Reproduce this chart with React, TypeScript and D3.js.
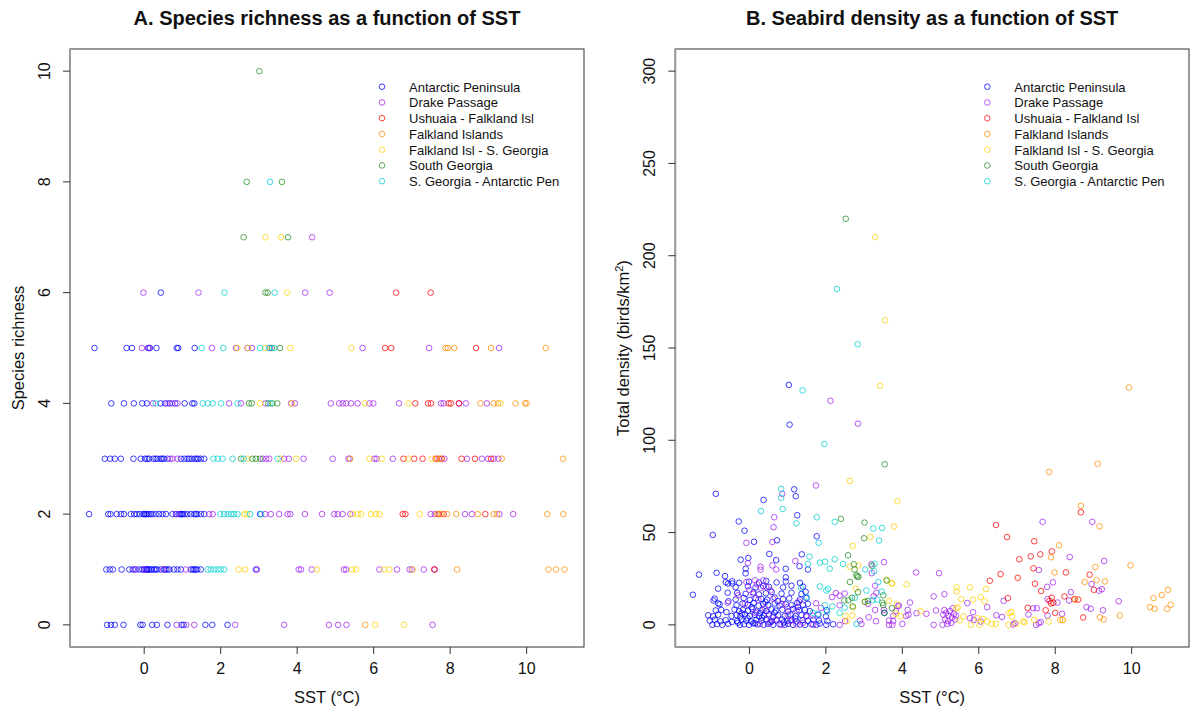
import React from "react";
import * as d3 from "d3";

const regionNames = [
  "Antarctic Peninsula",
  "Drake Passage",
  "Ushuaia - Falkland Isl",
  "Falkland Islands",
  "Falkland Isl - S. Georgia",
  "South Georgia",
  "S. Georgia - Antarctic Pen",
];
const regionColors = ["#0000FF", "#A020F0", "#FF0000", "#FF8C00", "#FFD000", "#228B22", "#00CED1"];

const xTicks = [0, 2, 4, 6, 8, 10];
const yTicksA = [0, 2, 4, 6, 8, 10];
const yTicksB = [0, 50, 100, 150, 200, 250, 300];

// Panel A: [richness, SST values]
const richAP: [number, number[]][] = [
  [6, [0.435]],
  [5, [-1.3, -0.46, -0.32, 0.1, 0.15, 0.32, 0.85, 0.89, 1.32]],
  [4, [-0.86, -0.53, -0.27, -0.05, 0.07, 0.43, 0.55, 0.67, 0.81, 1.06, 1.26, 1.31]],
  [3, [-1.03, -0.89, -0.77, -0.61, -0.28, -0.09, 0.02, 0.08, 0.13, 0.24, 0.3, 0.35, 0.43, 0.47, 0.52, 0.61, 0.96, 1.05, 1.13, 1.18, 1.24, 1.32, 1.37, 1.41, 1.48, 1.57]],
  [2, [-1.44, -0.94, -0.88, -0.72, -0.61, -0.53, -0.35, -0.26, -0.19, -0.11, -0.02, 0.0, 0.04, 0.07, 0.12, 0.17, 0.22, 0.3, 0.39, 0.48, 0.57, 0.74, 0.83, 0.91, 0.95, 0.98, 1.01, 1.06, 1.13, 1.22, 1.31, 1.35, 1.39, 1.48, 1.57, 3.03]],
  [1, [-0.99, -0.9, -0.82, -0.59, -0.39, -0.3, -0.22, -0.13, -0.05, 0.0, 0.04, 0.07, 0.09, 0.12, 0.17, 0.2, 0.26, 0.3, 0.34, 0.43, 0.52, 0.56, 0.61, 0.66, 0.78, 0.87, 0.96, 1.22, 1.27, 1.31, 1.35, 1.39, 1.48, 2.92]],
  [0, [-0.97, -0.87, -0.77, -0.54, -0.1, -0.04, 0.21, 0.33, 0.61, 0.98, 1.03, 1.6, 1.78, 2.18]],
];
const richDP: [number, number[]][] = [
  [7, [4.39]],
  [6, [-0.02, 1.42, 4.21, 4.85]],
  [5, [-0.06, 0.12, 1.77, 2.4, 2.7, 2.82, 3.29, 5.71, 7.45, 9.28]],
  [4, [0.23, 0.61, 0.73, 0.87, 2.22, 2.53, 3.17, 3.84, 3.94, 4.88, 5.1, 5.19, 5.28, 5.41, 5.58, 5.89, 5.99, 6.66, 7.76, 7.83, 8.23, 8.41, 8.96]],
  [3, [0.68, 0.74, 0.87, 3.1, 3.19, 3.27, 3.66, 3.78, 4.17, 4.93, 5.34, 5.38, 6.02, 6.08, 6.5, 7.7, 7.85, 8.44, 8.83, 8.99, 9.14, 9.26]],
  [2, [0.85, 1.7, 1.79, 3.16, 3.31, 3.53, 3.75, 3.82, 4.2, 4.65, 4.97, 5.06, 5.19, 5.39, 7.49, 7.6, 8.39, 8.57, 9.29, 9.65]],
  [1, [-0.25, 0.0, 0.5, 1.09, 2.95, 4.04, 4.1, 4.38, 5.22, 5.28, 6.15, 6.61, 6.94, 7.0, 7.31, 7.6]],
  [0, [0.85, 1.1, 1.31, 2.38, 3.66, 4.83, 5.07, 5.29, 7.54]],
];
const richUF: [number, number[]][] = [
  [6, [6.59, 7.49]],
  [5, [6.3, 6.46, 8.68]],
  [4, [7.09, 7.42, 7.5, 7.96, 8.02, 8.23]],
  [3, [6.78, 7.06, 7.28, 7.62, 7.78, 8.3, 8.65, 9.07]],
  [2, [6.76, 6.83, 7.7, 7.83, 8.92]],
  [1, [7.58]],
];
const richFI: [number, number[]][] = [
  [5, [7.88, 7.94, 8.11, 9.07, 10.5]],
  [4, [8.79, 9.14, 9.25, 9.71, 9.96, 10.0]],
  [3, [7.66, 7.74, 9.35, 10.95]],
  [2, [7.66, 7.75, 7.92, 8.16, 8.72, 9.14, 9.23, 10.54, 10.96]],
  [1, [8.18, 10.57, 10.77, 10.99]],
  [0, [5.78]],
];
const richFS: [number, number[]][] = [
  [7, [3.17, 3.58]],
  [6, [3.74]],
  [5, [2.44, 2.72, 3.17, 3.82, 5.42]],
  [4, [3.03, 3.86, 5.77, 6.91, 9.32]],
  [3, [2.7, 3.56, 3.97, 5.39, 5.89, 6.21, 6.91, 7.52]],
  [2, [2.62, 2.69, 5.45, 5.58, 5.67, 5.93, 6.06, 6.15, 7.2]],
  [1, [2.47, 2.64, 4.52, 5.44, 5.54, 6.27, 6.41, 7.02]],
  [0, [6.04, 6.79]],
];
const richSG: [number, number[]][] = [
  [10, [3.01]],
  [8, [2.68, 3.6]],
  [7, [2.6, 3.76]],
  [6, [3.17, 3.23]],
  [5, [3.34, 3.55]],
  [4, [2.74, 2.81, 3.24, 3.35, 3.48]],
  [3, [2.53, 2.83, 2.92, 3.03]],
];
const richGA: [number, number[]][] = [
  [8, [3.29]],
  [6, [2.1, 3.41]],
  [5, [1.5, 2.07, 3.03, 3.26, 3.4]],
  [4, [0.3, 1.53, 1.66, 1.79, 2.01, 2.44, 3.3]],
  [3, [1.81, 1.92, 2.05, 2.31, 2.6, 3.49]],
  [2, [1.99, 2.09, 2.18, 2.27, 2.35, 2.44, 2.77, 3.06]],
  [1, [1.66, 1.74, 1.83, 1.92, 2.0, 2.09]],
];

// Panel B: [SST, density]
const densAP: [number, number][] = [
  [1.03, 130], [1.05, 108.5], [-0.88, 71], [1.17, 73.4], [1.21, 69.7], [0.37, 67.7], [1.25, 59.4], [-0.28, 56],
  [-0.96, 48.7], [-0.13, 51], [0.12, 45], [0.72, 45.8], [1.76, 48], [1.37, 38.2], [0.52, 38.4], [-0.03, 36.2],
  [-0.23, 35.3], [-0.1, 30.4], [-0.1, 27.9], [1.53, 30], [0.95, 30.4], [0.95, 25.7], [1.31, 31.8], [0.7, 35.1],
  [-1.32, 27.2], [-0.86, 28.2], [-0.64, 26.4], [-1.48, 16.3], [-0.82, 19.6], [-0.56, 22.4], [-0.45, 22.4],
  [-0.57, 17.4], [-0.55, 12.8], [-0.82, 11.6], [-0.94, 13.2], [-0.74, 8.1], [3.53, 6.5],
  [-0.97, 0], [-0.85, 0.4], [-0.71, 0], [-0.56, 0.6], [-0.25, 0], [-0.14, 0.3], [-0.01, 0], [0.1, 0.8], [0.21, 0.2],
  [0.37, 0], [0.49, 0.5], [0.62, 0], [0.79, 0.3], [0.92, 0], [1.01, 0.6], [1.14, 0], [1.32, 0.2], [1.45, 0],
  [1.62, 0.4], [1.75, 0], [1.84, 0.7], [2.01, 0], [2.19, 0.3],
  [-1.04, 2.3], [-0.91, 2.8], [-0.76, 1.9], [-0.62, 2.5], [-0.32, 2.1], [-0.21, 2.9], [-0.08, 2.2], [0.05, 1.8],
  [0.18, 2.6], [0.31, 2.3], [0.44, 3.0], [0.58, 2.0], [0.71, 2.4], [0.86, 2.9], [0.99, 2.1], [1.1, 2.6],
  [1.23, 1.8], [1.39, 2.5], [1.53, 2.2], [1.67, 2.9], [1.82, 2.3], [2.04, 2.0],
  [-1.08, 5.2], [-0.95, 4.6], [-0.82, 5.5], [-0.47, 4.8], [-0.34, 5.3], [-0.24, 4.5], [-0.12, 5.8], [0.01, 4.9],
  [0.14, 5.4], [0.25, 4.6], [0.38, 5.1], [0.51, 5.7], [0.62, 4.4], [0.75, 5.2], [0.92, 4.8], [1.07, 5.6],
  [1.21, 4.7], [1.36, 5.3], [1.49, 4.9], [1.8, 5.5], [2.0, 4.6],
  [-0.88, 7.8], [-0.39, 8.3], [-0.27, 7.4], [-0.17, 8.1], [-0.04, 7.6], [0.08, 8.5], [0.18, 7.2], [0.34, 8.0],
  [0.44, 7.5], [0.58, 8.4], [0.69, 7.7], [0.86, 8.2], [1.01, 7.3], [1.14, 8.6], [1.3, 7.9], [1.45, 8.1],
  [1.58, 7.4], [2.02, 8.0],
  [-0.78, 11.2], [-0.34, 10.6], [-0.18, 11.5], [-0.04, 10.9], [0.11, 11.8], [0.24, 10.4], [0.36, 11.3],
  [0.49, 10.8], [0.66, 11.6], [0.79, 10.5], [0.95, 11.1], [1.1, 10.7], [1.25, 11.9], [1.4, 10.9], [1.53, 11.4],
  [-0.91, 14.2], [-0.36, 13.8], [-0.15, 14.6], [0.01, 13.5], [0.16, 14.4], [0.31, 14.0], [0.46, 13.6],
  [0.66, 14.8], [0.88, 13.9], [1.04, 14.3], [1.32, 13.7], [1.49, 14.5],
  [-0.32, 17.3], [-0.1, 16.8], [0.1, 17.6], [0.25, 16.5], [0.43, 17.1], [0.58, 17.8], [0.84, 16.9],
  [1.1, 17.4], [1.36, 16.7], [1.47, 17.9],
  [-0.36, 20.4], [-0.04, 20.9], [0.16, 20.2], [0.36, 21.0], [0.51, 20.6], [0.88, 20.3], [1.1, 21.2], [1.4, 20.7],
  [-0.62, 23.1], [-0.45, 23.6], [-0.27, 22.8], [-0.01, 23.4], [0.25, 22.9], [0.44, 23.8], [0.71, 23.0],
  [0.95, 23.5], [1.32, 22.7],
  [-0.3, 1.2], [-0.05, 3.6], [0.15, 0.9], [0.28, 6.3], [0.33, 3.9], [0.55, 1.4], [0.66, 6.6], [0.9, 1.3],
  [1.2, 3.4], [1.27, 9.7], [0.06, 9.6], [-0.2, 6.2], [0.42, 12.4], [0.74, 12.8], [-0.46, 1.6], [-0.6, 6.9],
];
const densDP: [number, number][] = [
  [2.12, 121.4], [2.84, 109], [1.74, 75.5], [0.86, 71], [0.65, 58.3], [0.63, 52.9], [-0.08, 44.4], [0.6, 44.9],
  [-0.04, 33.5], [1.2, 34.6], [0.29, 31.5], [0.29, 29.9], [0.6, 32.2], [0.7, 30], [3.19, 32.8], [3.52, 34], [3.2, 28],
  [-0.08, 23.2], [0.14, 24.1], [0.36, 24.1], [0.44, 20.5], [0.55, 18.7], [0.1, 16.8], [0.23, 13.6], [0.62, 14.1],
  [0.84, 11.4], [0.99, 9.6], [1.23, 7.8], [1.49, 4.5], [-0.12, 11.4], [-0.57, 12], [0.27, 0.5], [0.53, 1],
  [0.84, 0], [1.06, 2], [1.23, 0.3], [1.4, 1.2], [1.67, 0], [2.36, 0], [1.74, 11.7], [1.87, 9.2], [1.66, 5],
  [2.16, 15], [2.26, 17.2], [2.49, 17], [2.36, 15.8], [2.36, 10.6], [0.3, 20], [0.2, 22], [0.0, 19], [0.5, 5],
  [0.7, 3], [1.0, 5.5], [0.4, 9], [0.15, 6.5], [-0.3, 16], [1.3, 12.5],
  [2.5, 2], [3.12, 4.1], [2.89, 2.3], [2.93, 0.5], [3.31, 2], [3.65, 2.3], [3.76, 5], [3.74, 0], [3.89, 10.1],
  [3.25, 15.5], [3.32, 17.4], [3.29, 21.2], [3.1, 11.4], [3.29, 8.1], [3.52, 8.1], [3.91, 10.5], [3.83, 7.4],
  [3.76, 2], [3.65, 0],
  [7.67, 55.8], [8.97, 55.8], [8.38, 36.7], [9.28, 34.6], [7.57, 29.7], [4.36, 28.4], [4.96, 28], [8.95, 22.1],
  [7.94, 23], [9.22, 19.3], [9.15, 18.5], [7.79, 20.6], [8.41, 17.7], [4.82, 15.4], [5.1, 16.6], [5.7, 11.8],
  [4.2, 12.1], [6.22, 9.6], [6.65, 13], [8.36, 13.2], [7.8, 14], [8.06, 12.1], [7.42, 9], [7.52, 9], [8.82, 9.6],
  [8.93, 8.7], [9.25, 7.9], [9.66, 12.8], [8.18, 6], [7.8, 5], [7.57, 0.9], [7.5, 0], [7.62, 1.5], [7.3, 5.6],
  [6.94, 0.9], [6.9, 0.2], [6.46, 5.2], [6.61, 4.3], [6.05, 1.8], [5.85, 6.8], [5.77, 3.6], [5.87, 2.7], [5.05, 0],
  [4.82, 0], [4.88, 7.8], [4.63, 6], [4.37, 6.3], [4.14, 8.1], [4.16, 5.5], [4.1, 4.8], [4.0, 0.5],
  [5.1, 8], [5.15, 6.5], [5.2, 5], [5.25, 7.5], [5.3, 4], [5.35, 6], [5.12, 3], [5.2, 2], [5.28, 1], [5.38, 3],
  [5.18, 0.5], [5.32, 9], [5.4, 5], [5.07, 5.5],
];
const densUF: [number, number][] = [
  [8.67, 61], [6.45, 54.1], [6.74, 47.6], [7.45, 45.3], [7.36, 37.1], [7.61, 38.2], [7.91, 39.8], [7.06, 35.5],
  [7.43, 30.6], [8.28, 28.4], [8.9, 27.2], [6.57, 27.5], [7.02, 25.5], [6.29, 23.9], [7.47, 22.3], [9.01, 19],
  [7.63, 18.3], [6.76, 14.5], [7.91, 14.7], [8.6, 13.7], [8.24, 15.4], [7.89, 11.6], [7.95, 12], [7.28, 9.2],
  [7.75, 7.9], [8.73, 4], [8.0, 6.5], [7.85, 13], [8.5, 14],
];
const densFI: [number, number][] = [
  [9.93, 128.6], [7.84, 82.9], [9.11, 87.3], [8.67, 64.5], [9.16, 53.4], [8.1, 43.1], [7.89, 36.6], [9.97, 32.2],
  [9.05, 31.3], [7.98, 28.4], [8.77, 23.2], [9.08, 24.2], [9.3, 23.5], [10.95, 19], [10.79, 16.1], [10.57, 14.5],
  [11.02, 10.9], [10.93, 8.7], [10.48, 9.6], [10.6, 8.7], [8.52, 13.6], [9.69, 5.1], [9.17, 4.1], [9.27, 3],
  [8.13, 2.7], [8.2, 2.7],
];
const densFS: [number, number][] = [
  [3.29, 210], [3.55, 165], [3.42, 129.5], [2.63, 78], [3.87, 67], [3.78, 53.2], [3.16, 47.6], [2.7, 42.7],
  [2.63, 31.5], [2.85, 32.2], [4.11, 21.9], [3.72, 22.6], [3.59, 24.5], [3.73, 22.4], [5.42, 20.3], [5.42, 18.1],
  [5.77, 20.3], [6.19, 19.4], [5.54, 13.9], [5.85, 13.7], [6.05, 15], [6.15, 12.8], [5.41, 8.9], [5.45, 9.5],
  [5.5, 2.4], [5.6, 4.6], [4.48, 7.4], [3.95, 4.7], [3.86, 11], [7.83, 1.8], [7.45, 2.7], [7.16, 1.8], [7.2, 1.5],
  [6.79, 6.5], [6.85, 7], [6.87, 4.5], [6.98, 0.5], [6.78, 0], [6.34, 0.5], [6.45, 0.5], [6.22, 1.8], [5.96, 3.6],
  [6.11, 3.2], [6.02, 0], [5.79, 0], [2.71, 9.6], [2.51, 4.9], [2.69, 5], [2.78, 19.6], [3.02, 12.5], [3.83, 6],
  [2.55, 2], [8.2, 2.5], [3.65, 13],
];
const densSG: [number, number][] = [
  [2.52, 220], [3.54, 87], [2.39, 57.4], [3.01, 55.4], [3.0, 46.9], [2.58, 37.7], [2.73, 32.8], [2.75, 30],
  [2.8, 27], [2.85, 26], [3.21, 32], [2.59, 13.4], [2.68, 14.7], [2.84, 17.7], [2.63, 23.2], [2.82, 26.2],
  [2.48, 13.2], [3.02, 12.5], [3.48, 12], [3.5, 10.8], [3.5, 16], [3.73, 9], [3.59, 24], [3.53, 6.5], [3.1, 13],
  [2.7, 10],
];
const densGA: [number, number][] = [
  [2.29, 182], [2.83, 152], [1.39, 127], [1.96, 98], [0.83, 73.7], [0.83, 68.8], [0.3, 61.6], [0.87, 62.8],
  [1.23, 55], [1.76, 58.3], [2.23, 55.8], [3.24, 52.2], [3.47, 52.5], [3.39, 45.7], [1.81, 44.4], [1.57, 37],
  [1.53, 33], [1.84, 33.7], [1.98, 34.2], [2.1, 30.4], [2.23, 35.5], [2.45, 33], [3.27, 33.1], [3.26, 29],
  [3.03, 30], [1.84, 20.8], [2.01, 18.6], [2.06, 19.5], [2.17, 10], [1.97, 10.6], [1.8, 6], [2.03, 7.1],
  [2.36, 6.5], [2.49, 9.4], [2.76, 14.7], [3.22, 13.4], [3.34, 13.7], [3.06, 18.6], [3.37, 23.2], [3.46, 18],
  [1.66, 6.5], [2.8, 0.5], [1.5, 15], [1.35, 20],
];

const richSets = [richAP, richDP, richUF, richFI, richFS, richSG, richGA];
const densSets = [densAP, densDP, densUF, densFI, densFS, densSG, densGA];

const W = 1190;
const H = 711;
const FONT = "Liberation Sans, Arial, Helvetica, sans-serif";
const TOP = 49;
const BOTTOM = 647;
const R = 2.8;
const OP = 0.75;

type PanelProps = {
  left: number;
  right: number;
  title: string;
  yLabel: React.ReactNode;
  yDomain: [number, number];
  yTicks: number[];
  points: { x: number; y: number; c: number }[];
};

function Panel({ left, right, title, yLabel, yDomain, yTicks, points }: PanelProps) {
  const x = d3.scaleLinear().domain([-1.94, 11.5]).range([left, right]);
  const y = d3.scaleLinear().domain(yDomain).range([BOTTOM, TOP]);
  const cx = (left + right) / 2;
  const cy = (TOP + BOTTOM) / 2;
  const legX = left + 312;
  const legY0 = 86.7;
  const legDy = 15.75;
  return (
    <g>
      <text x={cx} y={25} textAnchor="middle" fontFamily={FONT} fontWeight="bold" fontSize={20} fill="#111">
        {title}
      </text>
      {points.map((p, i) => (
        <circle
          key={i}
          cx={x(p.x)}
          cy={y(p.y)}
          r={R}
          fill="none"
          stroke={regionColors[p.c]}
          strokeOpacity={OP}
          strokeWidth={1}
        />
      ))}
      <rect x={left} y={TOP} width={right - left} height={BOTTOM - TOP} fill="none" stroke="#333" strokeWidth={1} />
      <line x1={left} x2={left} y1={TOP} y2={BOTTOM} stroke="#999" strokeWidth={2} />
      {xTicks.map((t) => (
        <g key={t}>
          <line x1={x(t)} x2={x(t)} y1={BOTTOM} y2={BOTTOM + 7} stroke="#333" />
          <text x={x(t)} y={BOTTOM + 27} textAnchor="middle" fontFamily={FONT} fontSize={16} fill="#111">
            {t}
          </text>
        </g>
      ))}
      {yTicks.map((t) => (
        <g key={t}>
          <line x1={left - 7} x2={left} y1={y(t)} y2={y(t)} stroke="#333" />
          <text
            x={left - 20}
            y={y(t)}
            transform={`rotate(-90 ${left - 20} ${y(t)})`}
            textAnchor="middle"
            fontFamily={FONT}
            fontSize={16}
            fill="#111"
          >
            {t}
          </text>
        </g>
      ))}
      <text x={cx} y={703} textAnchor="middle" fontFamily={FONT} fontSize={16.5} fill="#111">
        SST (°C)
      </text>
      <text
        x={left - 46}
        y={cy}
        transform={`rotate(-90 ${left - 46} ${cy})`}
        textAnchor="middle"
        fontFamily={FONT}
        fontSize={16.5}
        fill="#111"
      >
        {yLabel}
      </text>
      {regionNames.map((n, i) => (
        <g key={n}>
          <circle
            cx={legX}
            cy={legY0 + i * legDy}
            r={R}
            fill="none"
            stroke={regionColors[i]}
            strokeOpacity={OP}
          />
          <text x={legX + 27} y={legY0 + i * legDy + 5} fontFamily={FONT} fontSize={13} fill="#111">
            {n}
          </text>
        </g>
      ))}
    </g>
  );
}

export default function App() {
  const ptsA: { x: number; y: number; c: number }[] = [];
  richSets.forEach((set, c) => {
    set.forEach(([rich, ssts]) => ssts.forEach((s) => ptsA.push({ x: s, y: rich, c })));
  });
  const ptsB: { x: number; y: number; c: number }[] = [];
  densSets.forEach((set, c) => {
    set.forEach(([s, d]) => ptsB.push({ x: s, y: d, c }));
  });
  return (
    <svg
      width={W}
      height={H}
      style={{ position: "absolute", left: 0, top: 0, background: "#fff" }}
    >
      <rect width={W} height={H} fill="#fff" />
      <Panel
        left={70}
        right={584}
        title="A. Species richness as a function of SST"
        yLabel="Species richness"
        yDomain={[-0.4, 10.4]}
        yTicks={yTicksA}
        points={ptsA}
      />
      <Panel
        left={675.3}
        right={1189}
        title="B. Seabird density as a function of SST"
        yLabel={
          <>
            Total density (birds/km
            <tspan fontSize={11} dy={-6}>2</tspan>
            <tspan dy={6}>)</tspan>
          </>
        }
        yDomain={[-12, 312]}
        yTicks={yTicksB}
        points={ptsB}
      />
    </svg>
  );
}
